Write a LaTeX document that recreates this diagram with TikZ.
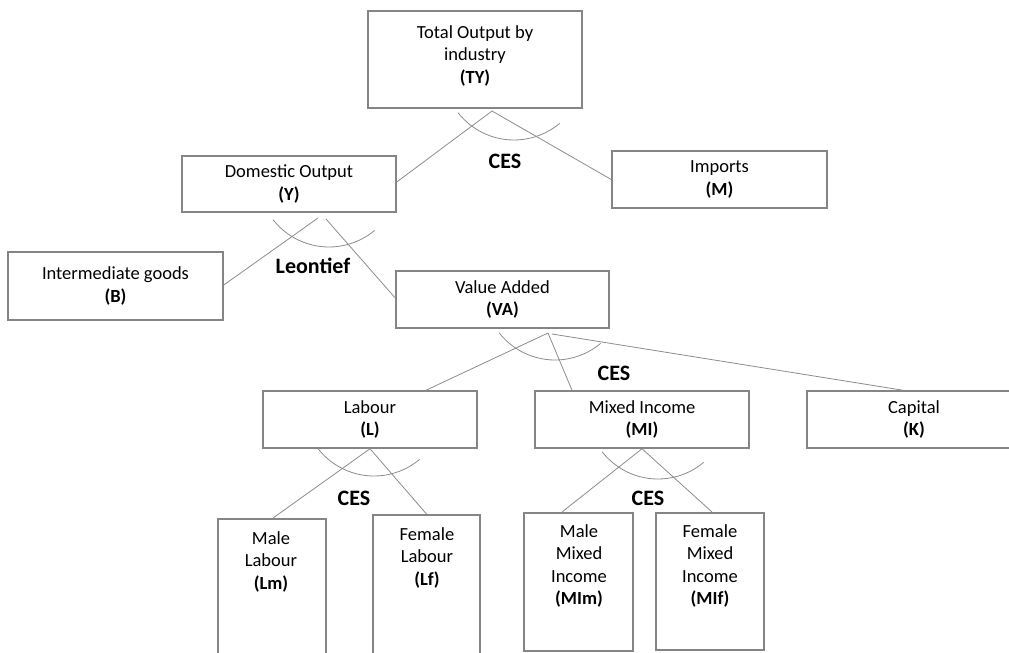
\documentclass[tikz,border=0pt]{standalone}
\usepackage{fontspec}
\setmainfont{Carlito}
\definecolor{boxgray}{rgb}{0.52,0.52,0.52}
\definecolor{linegray}{rgb}{0.55,0.55,0.55}
\begin{document}
\begin{tikzpicture}[x=1pt,y=-1pt,
  box/.style={draw=boxgray, line width=1.5pt, fill=white, align=center, inner sep=0pt,
              font=\fontsize{18.5}{22.5}\selectfont},
  tallbox/.style={draw=boxgray, line width=1.5pt, fill=white, inner sep=0pt, anchor=north},
  txt/.style={align=center, inner sep=0pt, font=\fontsize{18.5}{22.5}\selectfont},
  conn/.style={draw=linegray, line width=0.8pt},
  fn/.style={font=\fontsize{22}{24}\selectfont\bfseries, inner sep=0pt}]
\useasboundingbox (0,0) rectangle (1009,653);
\begin{scope}
\clip (0,0) rectangle (1009,653);

% main boxes
\node[box, minimum width=214pt, minimum height=97pt] (TY) at (475,59.5) {};
\node[txt] (TYt) at (475,55.5) {Total Output by\\industry\\\textbf{(TY)}};
\node[box, minimum width=214pt, minimum height=56pt] (Y) at (289,184) {Domestic Output\\\textbf{(Y)}};
\node[box, minimum width=215pt, minimum height=57pt] (M) at (719.5,179.5) {Imports\\\textbf{(M)}};
\node[box, minimum width=215pt, minimum height=68pt] (B) at (115.5,286) {Intermediate goods\\\textbf{(B)}};
\node[box, minimum width=213pt, minimum height=57pt] (VA) at (502.5,299.5) {Value Added\\\textbf{(VA)}};
\node[box, minimum width=214pt, minimum height=57pt] (L) at (370,419.5) {Labour\\\textbf{(L)}};
\node[box, minimum width=214pt, minimum height=57pt] (MI) at (642,419.5) {Mixed Income\\\textbf{(MI)}};
\node[box, minimum width=214pt, minimum height=57pt] (K) at (914,419.5) {Capital\\\textbf{(K)}};

% tall boxes
\node[tallbox, minimum width=108pt, minimum height=200pt] (Lm) at (272,518) {};
\node[txt] (Lmt) at (271,561.5) {Male\\Labour\\\textbf{(Lm)}};
\node[tallbox, minimum width=107pt, minimum height=200pt] (Lf) at (426.5,514) {};
\node[txt] (Lft) at (427,557.5) {Female\\Labour\\\textbf{(Lf)}};
\node[tallbox, minimum width=109pt, minimum height=138pt] (MIm) at (578.5,512) {};
\node[txt] (MImt) at (579,566) {Male\\Mixed\\Income\\\textbf{(MIm)}};
\node[tallbox, minimum width=108pt, minimum height=137pt] (MIf) at (710,512) {};
\node[txt] (MIft) at (710,566) {Female\\Mixed\\Income\\\textbf{(MIf)}};

% apex coordinates
\coordinate (ty0) at (492,111);
\coordinate (y1) at (318,218);
\coordinate (y2) at (326,219);
\coordinate (va0) at (548,333);
\coordinate (va1) at (552,334);

% connectors
\draw[conn] (ty0) -- ([yshift=2pt]Y.east);
\draw[conn] (ty0) -- (M.west);
\draw[conn] (y1) -- ([yshift=1pt]B.east);
\draw[conn] (y2) -- ([yshift=1.5pt]VA.west);
\draw[conn] (va0) -- ([xshift=56pt]L.north);
\draw[conn] (va0) -- ([xshift=-70pt]MI.north);
\draw[conn] (va1) -- ([xshift=-11pt]K.north);
\draw[conn] (L.south) -- ([xshift=1pt]Lm.north);
\draw[conn] (L.south) -- (Lf.north);
\draw[conn] (MI.south) -- ([xshift=-16.5pt]MIm.north);
\draw[conn] (MI.south) -- ([xshift=2pt]MIf.north);

% arcs
\draw[conn] (514,69) ++(218:71pt) arc[start angle=218, end angle=310, radius=71pt];
\draw[conn] (329,176) ++(218:71pt) arc[start angle=218, end angle=310, radius=71pt];
\draw[conn] (555,289) ++(218:71pt) arc[start angle=218, end angle=310, radius=71pt];
\draw[conn] (374,405) ++(218:71pt) arc[start angle=218, end angle=310, radius=71pt];
\draw[conn] (658,408) ++(218:71pt) arc[start angle=218, end angle=310, radius=71pt];

% function labels
\node[fn] (ces1) at (505,161) {CES};
\node[fn] (leon) at (313,266) {Leontief};
\node[fn] (ces2) at (614,373) {CES};
\node[fn] (ces3) at (354,498) {CES};
\node[fn] (ces4) at (648,498) {CES};
\end{scope}
\end{tikzpicture}
\end{document}
